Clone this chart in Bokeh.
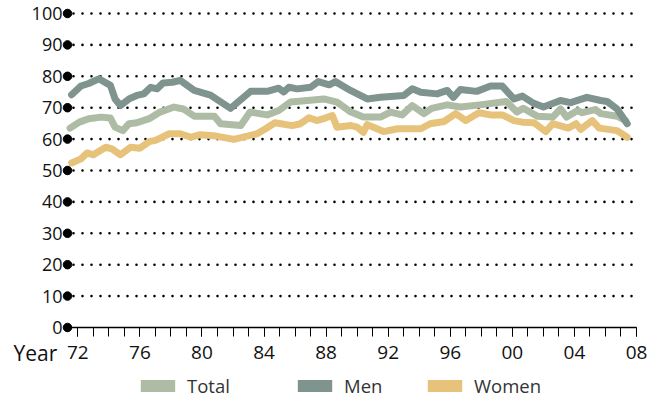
from bokeh.plotting import figure
from bokeh.models import FixedTicker, Legend, LegendItem, Label, Range1d
from bokeh.embed import file_html
from bokeh.resources import INLINE

# ---- data ----
years_men = [1971.6, 1972.2, 1972.7, 1973.35, 1974.1, 1974.4, 1974.75, 1975.3, 1975.8, 1976.25,
             1976.7, 1977.1, 1977.5, 1978.1, 1978.6, 1979.5, 1980.55, 1981.84, 1983.13, 1984.2,
             1984.95, 1985.27, 1985.6, 1986.14, 1987.0, 1987.5, 1988.2, 1988.6, 1989.57, 1990.65,
             1991.5, 1993.0, 1993.55, 1994.1, 1995.15, 1995.8, 1996.2, 1996.65, 1997.7, 1998.6,
             1999.35, 2000.1, 2000.65, 2001.3, 2002.0, 2003.1, 2003.75, 2004.8, 2005.7, 2006.1,
             2006.75, 2007.4]
men = [74.1, 76.9, 77.7, 79.2, 77.1, 72.8, 70.7, 72.8, 73.9, 74.4,
       76.5, 76.0, 77.9, 78.1, 78.7, 75.5, 74.0, 69.8, 75.2, 75.2,
       76.2, 75.0, 76.5, 76.0, 76.5, 78.3, 77.3, 78.3, 75.5, 72.8,
       73.3, 73.9, 76.0, 74.9, 74.4, 75.5, 73.3, 75.8, 75.2, 76.9,
       76.9, 72.8, 73.7, 71.6, 70.2, 72.3, 71.6, 73.3, 72.3, 72.0,
       69.6, 64.9]

years_total = [1971.5, 1972.1, 1972.7, 1973.5, 1974.1, 1974.4, 1974.9, 1975.3, 1975.8, 1976.6,
               1977.3, 1978.2, 1978.8, 1979.5, 1980.3, 1980.8, 1981.2, 1982.5, 1983.1, 1984.2,
               1984.95, 1985.7, 1986.8, 1987.85, 1988.7, 1989.6, 1990.4, 1991.5, 1992.15, 1992.9,
               1993.55, 1994.3, 1994.8, 1995.8, 1996.65, 1997.9, 1999.6, 2000.3, 2000.7, 2001.6,
               2002.6, 2003.1, 2003.5, 2004.2, 2004.5, 2005.35, 2005.7, 2006.75, 2007.3]
total = [63.5, 65.4, 66.5, 67.0, 66.7, 63.8, 62.7, 64.9, 65.2, 66.5,
         68.6, 70.2, 69.6, 67.3, 67.3, 67.3, 64.9, 64.3, 68.6, 67.7,
         69.1, 71.8, 72.3, 72.8, 71.8, 68.6, 67.0, 67.0, 68.6, 67.7,
         70.7, 68.1, 69.8, 70.9, 70.2, 70.9, 72.0, 68.6, 69.8, 67.3,
         67.0, 69.6, 67.0, 69.1, 68.4, 69.4, 68.1, 67.3, 65.9]

years_women = [1971.6, 1972.2, 1972.6, 1973.0, 1973.8, 1974.2, 1974.75, 1975.4, 1976.0, 1976.6,
               1977.0, 1977.9, 1978.6, 1979.3, 1979.9, 1980.75, 1982.05, 1983.55, 1984.1, 1984.7,
               1985.8, 1986.35, 1986.9, 1987.4, 1987.95, 1988.4, 1988.7, 1989.6, 1990.0, 1990.4,
               1990.65, 1991.7, 1992.6, 1994.1, 1994.7, 1995.6, 1996.35, 1997.0, 1997.85, 1998.6,
               1999.35, 2000.1, 2000.65, 2001.4, 2001.7, 2002.15, 2002.6, 2003.6, 2004.1, 2004.4,
               2005.15, 2005.6, 2006.75, 2007.4]
women = [52.4, 53.7, 55.6, 55.0, 57.4, 56.9, 55.0, 57.4, 57.1, 59.2,
         59.6, 61.7, 61.7, 60.6, 61.4, 61.1, 59.9, 61.7, 63.3, 65.2,
         64.3, 64.9, 66.8, 65.9, 66.7, 67.5, 63.8, 64.3, 63.8, 62.2,
         64.6, 62.4, 63.3, 63.3, 64.9, 65.6, 68.1, 65.9, 68.4, 67.7,
         67.7, 65.9, 65.4, 65.2, 64.1, 62.4, 64.9, 63.5, 64.9, 63.1,
         65.9, 63.5, 62.7, 60.6]

y_ticks = [0, 10, 20, 30, 40, 50, 60, 70, 80, 90, 100]
x_major_ticks = [1972, 1976, 1980, 1984, 1988, 1992, 1996, 2000, 2004, 2008]
x_tick_labels = ["72", "76", "80", "84", "88", "92", "96", "00", "04", "08"]
x_minor_ticks = list(range(1972, 2009))
series_names = ["Total", "Men", "Women"]
series_colors = ["#aebca6", "#7f938f", "#e7c27b"]
series_x = [years_total, years_men, years_women]
series_y = [total, men, women]

FONT = "Open Sans"
x_start = 1971.336   # where the value axis sits
x_end = 2008

p = figure(width=652, height=402, output_backend="svg", toolbar_location=None,
           x_range=Range1d(1967.019, 2009.03), y_range=Range1d(-23.89, 104.14),
           min_border=0)
p.outline_line_color = None

# x axis (drawn at value 0)
p.xaxis.fixed_location = 0
p.xaxis.bounds = (x_start, x_end)
p.xaxis.ticker = FixedTicker(ticks=x_major_ticks, minor_ticks=x_minor_ticks)
p.xaxis.major_label_overrides = {t: l for t, l in zip(x_major_ticks, x_tick_labels)}
p.xaxis.axis_line_color = "black"
p.xaxis.axis_line_width = 1.3
p.xaxis.major_tick_in = 0
p.xaxis.major_tick_out = 9
p.xaxis.minor_tick_in = 0
p.xaxis.minor_tick_out = 9
p.xaxis.major_tick_line_color = "black"
p.xaxis.minor_tick_line_color = "black"
p.xaxis.major_label_text_font = FONT
p.xaxis.major_label_text_font_size = "19px"
p.xaxis.major_label_text_color = "#111111"
p.xaxis.major_label_standoff = 10

# y axis (drawn at the left end of the time axis)
p.yaxis.fixed_location = x_start
p.yaxis.bounds = (0, 100)
p.yaxis.ticker = FixedTicker(ticks=y_ticks, minor_ticks=[])
p.yaxis.axis_line_color = None
p.yaxis.major_tick_out = 0
p.yaxis.major_tick_in = 0
p.yaxis.major_label_text_font = FONT
p.yaxis.major_label_text_font_size = "18px"
p.yaxis.major_label_text_color = "#111111"
p.yaxis.major_label_standoff = 5

p.xgrid.grid_line_color = None
p.ygrid.grid_line_color = None

# dotted grid lines from the tick values
grid_vals = y_ticks[1:]
p.segment(x0=[x_start] * len(grid_vals), x1=[x_end] * len(grid_vals), y0=grid_vals, y1=grid_vals,
          line_color="black", line_width=2.6, line_dash="0 9", line_cap="round",
          line_dash_offset=3)

# axis dots
p.scatter(x=[x_start] * len(y_ticks), y=y_ticks, size=8.5, color="black")

# lines
for xs, ys, c in [(years_women, women, series_colors[2]),
                  (years_total, total, series_colors[0]),
                  (years_men, men, series_colors[1])]:
    p.line(xs, ys, line_width=7, color=c, line_join="round", line_cap="round")

# legend (separate legends to match spacing); swatch renderers are hidden
legend_x = [136, 293, 423]
for name, col, lx, xs, ys in zip(series_names, series_colors, legend_x, series_x, series_y):
    r = p.quad(left=[xs[0]], right=[xs[0]], top=[ys[0]], bottom=[ys[0]],
               fill_color=col, line_color=None, visible=False)
    leg = Legend(items=[LegendItem(label=name, renderers=[r])], location=(lx, 4),
                 orientation="horizontal", glyph_width=43, glyph_height=15,
                 label_standoff=8, padding=0, margin=0, spacing=0,
                 border_line_color=None, background_fill_alpha=0,
                 inactive_fill_alpha=0,
                 label_text_font=FONT, label_text_font_size="18.5px",
                 label_text_color="#333333", label_height=15)
    p.add_layout(leg, "center")

p.add_layout(Label(x=1967.857, y=-8.12, text="Year", text_font=FONT,
                   text_font_size="21px", text_color="#111111",
                   text_baseline="middle"))

open("out.html", "w").write(file_html(p, INLINE))
